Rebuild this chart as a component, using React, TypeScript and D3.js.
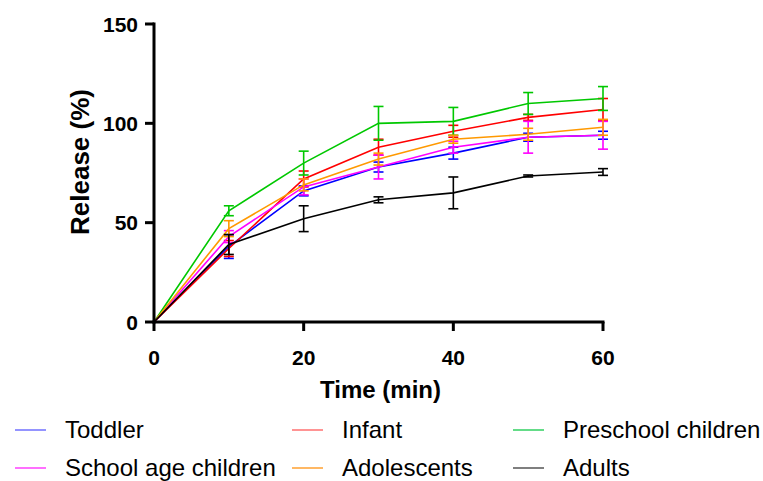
import React from "react";
import * as d3 from "d3";

const times = [0, 10, 20, 30, 40, 50, 60];
const seriesNames = ["Toddler", "Infant", "Preschool children", "School age children", "Adolescents", "Adults"];
const seriesColors = ["#0000ff", "#ff0000", "#00c800", "#ff00ff", "#ff9900", "#000000"];
const legendColors = ["#7070ff", "#ff7070", "#30d060", "#ff40ff", "#ffa030", "#555555"];

const toddler = [0, 38, 66, 78, 85, 93, 94];
const toddlerSd = [0, 6, 2.5, 2.5, 3, 2, 2];
const infant = [0, 37, 72, 88, 96, 103, 107];
const infantSd = [0, 4, 4, 4, 3, 1.5, 5.5];
const preschool = [0, 56, 80, 100, 101, 110, 112.5];
const preschoolSd = [0, 2.5, 6, 8.5, 7, 5.5, 6];
const schoolAge = [0, 43, 68, 78, 88, 93, 94];
const schoolAgeSd = [0, 3, 4, 6, 3, 8, 7];
const adolescents = [0, 47, 69, 82, 92, 94.5, 98];
const adolescentsSd = [0, 4, 3, 3, 2, 3, 4];
const adults = [0, 39, 52, 61.5, 65, 73.5, 75.5];
const adultsSd = [0, 5, 6.5, 1.5, 8, 0.5, 1.7];

const xTicks = [0, 20, 40, 60];
const yTicks = [0, 50, 100, 150];

const seriesValues = [toddler, infant, preschool, schoolAge, adolescents, adults];
const seriesSd = [toddlerSd, infantSd, preschoolSd, schoolAgeSd, adolescentsSd, adultsSd];

export default function App() {
  const x = d3.scaleLinear().domain([0, 60]).range([154, 603]);
  const y = d3.scaleLinear().domain([0, 150]).range([322, 24]);
  const line = d3
    .line<number>()
    .x((_, i) => x(times[i]))
    .y((d) => y(d));
  const font = "'Liberation Sans', Arial, sans-serif";
  const capW = 5;

  // legend layout: 3 columns x 2 rows
  const legendCols = [15, 292, 513];
  const legendRows = [430, 468];

  return (
    <svg
      width={763}
      height={481}
      style={{ position: "absolute", left: 0, top: 0, background: "#fff" }}
      fontFamily={font}
    >
      {/* series */}
      {seriesValues.map((vals, s) => (
        <g key={seriesNames[s]} stroke={seriesColors[s]} fill="none">
          {vals.map((v, i) =>
            seriesSd[s][i] > 0 ? (
              <g key={i} strokeWidth={1.6}>
                <line x1={x(times[i])} x2={x(times[i])} y1={y(v - seriesSd[s][i])} y2={y(v + seriesSd[s][i])} />
                <line x1={x(times[i]) - capW} x2={x(times[i]) + capW} y1={y(v + seriesSd[s][i])} y2={y(v + seriesSd[s][i])} />
                <line x1={x(times[i]) - capW} x2={x(times[i]) + capW} y1={y(v - seriesSd[s][i])} y2={y(v - seriesSd[s][i])} />
              </g>
            ) : null
          )}
          <path d={line(vals) ?? ""} strokeWidth={1.6} />
        </g>
      ))}

      {/* y axis */}
      <line x1={x(0)} x2={x(0)} y1={y(150) - 1.5} y2={y(0) + 1.5} stroke="#000" strokeWidth={3} />
      {yTicks.map((t) => (
        <g key={t}>
          <line x1={x(0) - 9} x2={x(0)} y1={y(t)} y2={y(t)} stroke="#000" strokeWidth={3} />
          <text x={138} y={y(t)} dy="0.36em" textAnchor="end" fontSize={21} fontWeight="bold">
            {t}
          </text>
        </g>
      ))}
      <text
        transform={`translate(89,162) rotate(-90)`}
        textAnchor="middle"
        fontSize={26}
        fontWeight="bold"
      >
        Release (%)
      </text>

      {/* x axis */}
      <line x1={x(0) - 1.5} x2={x(60) + 1.5} y1={y(0)} y2={y(0)} stroke="#000" strokeWidth={3} />
      {xTicks.map((t) => (
        <g key={t}>
          <line x1={x(t)} x2={x(t)} y1={y(0)} y2={y(0) + 9} stroke="#000" strokeWidth={3} />
          <text x={x(t)} y={365} textAnchor="middle" fontSize={21} fontWeight="bold">
            {t}
          </text>
        </g>
      ))}
      <text x={(x(0) + x(60)) / 2 + 2} y={398} textAnchor="middle" fontSize={24} fontWeight="bold">
        Time (min)
      </text>

      {/* legend */}
      {seriesNames.map((name, i) => {
        const lx = legendCols[i % 3];
        const ly = legendRows[Math.floor(i / 3)];
        return (
          <g key={name}>
            <line x1={lx} x2={lx + 31} y1={ly} y2={ly} stroke={legendColors[i]} strokeWidth={1.5} />
            <text x={lx + 50} y={ly + 8} fontSize={24} fill="#000">
              {name}
            </text>
          </g>
        );
      })}
    </svg>
  );
}
